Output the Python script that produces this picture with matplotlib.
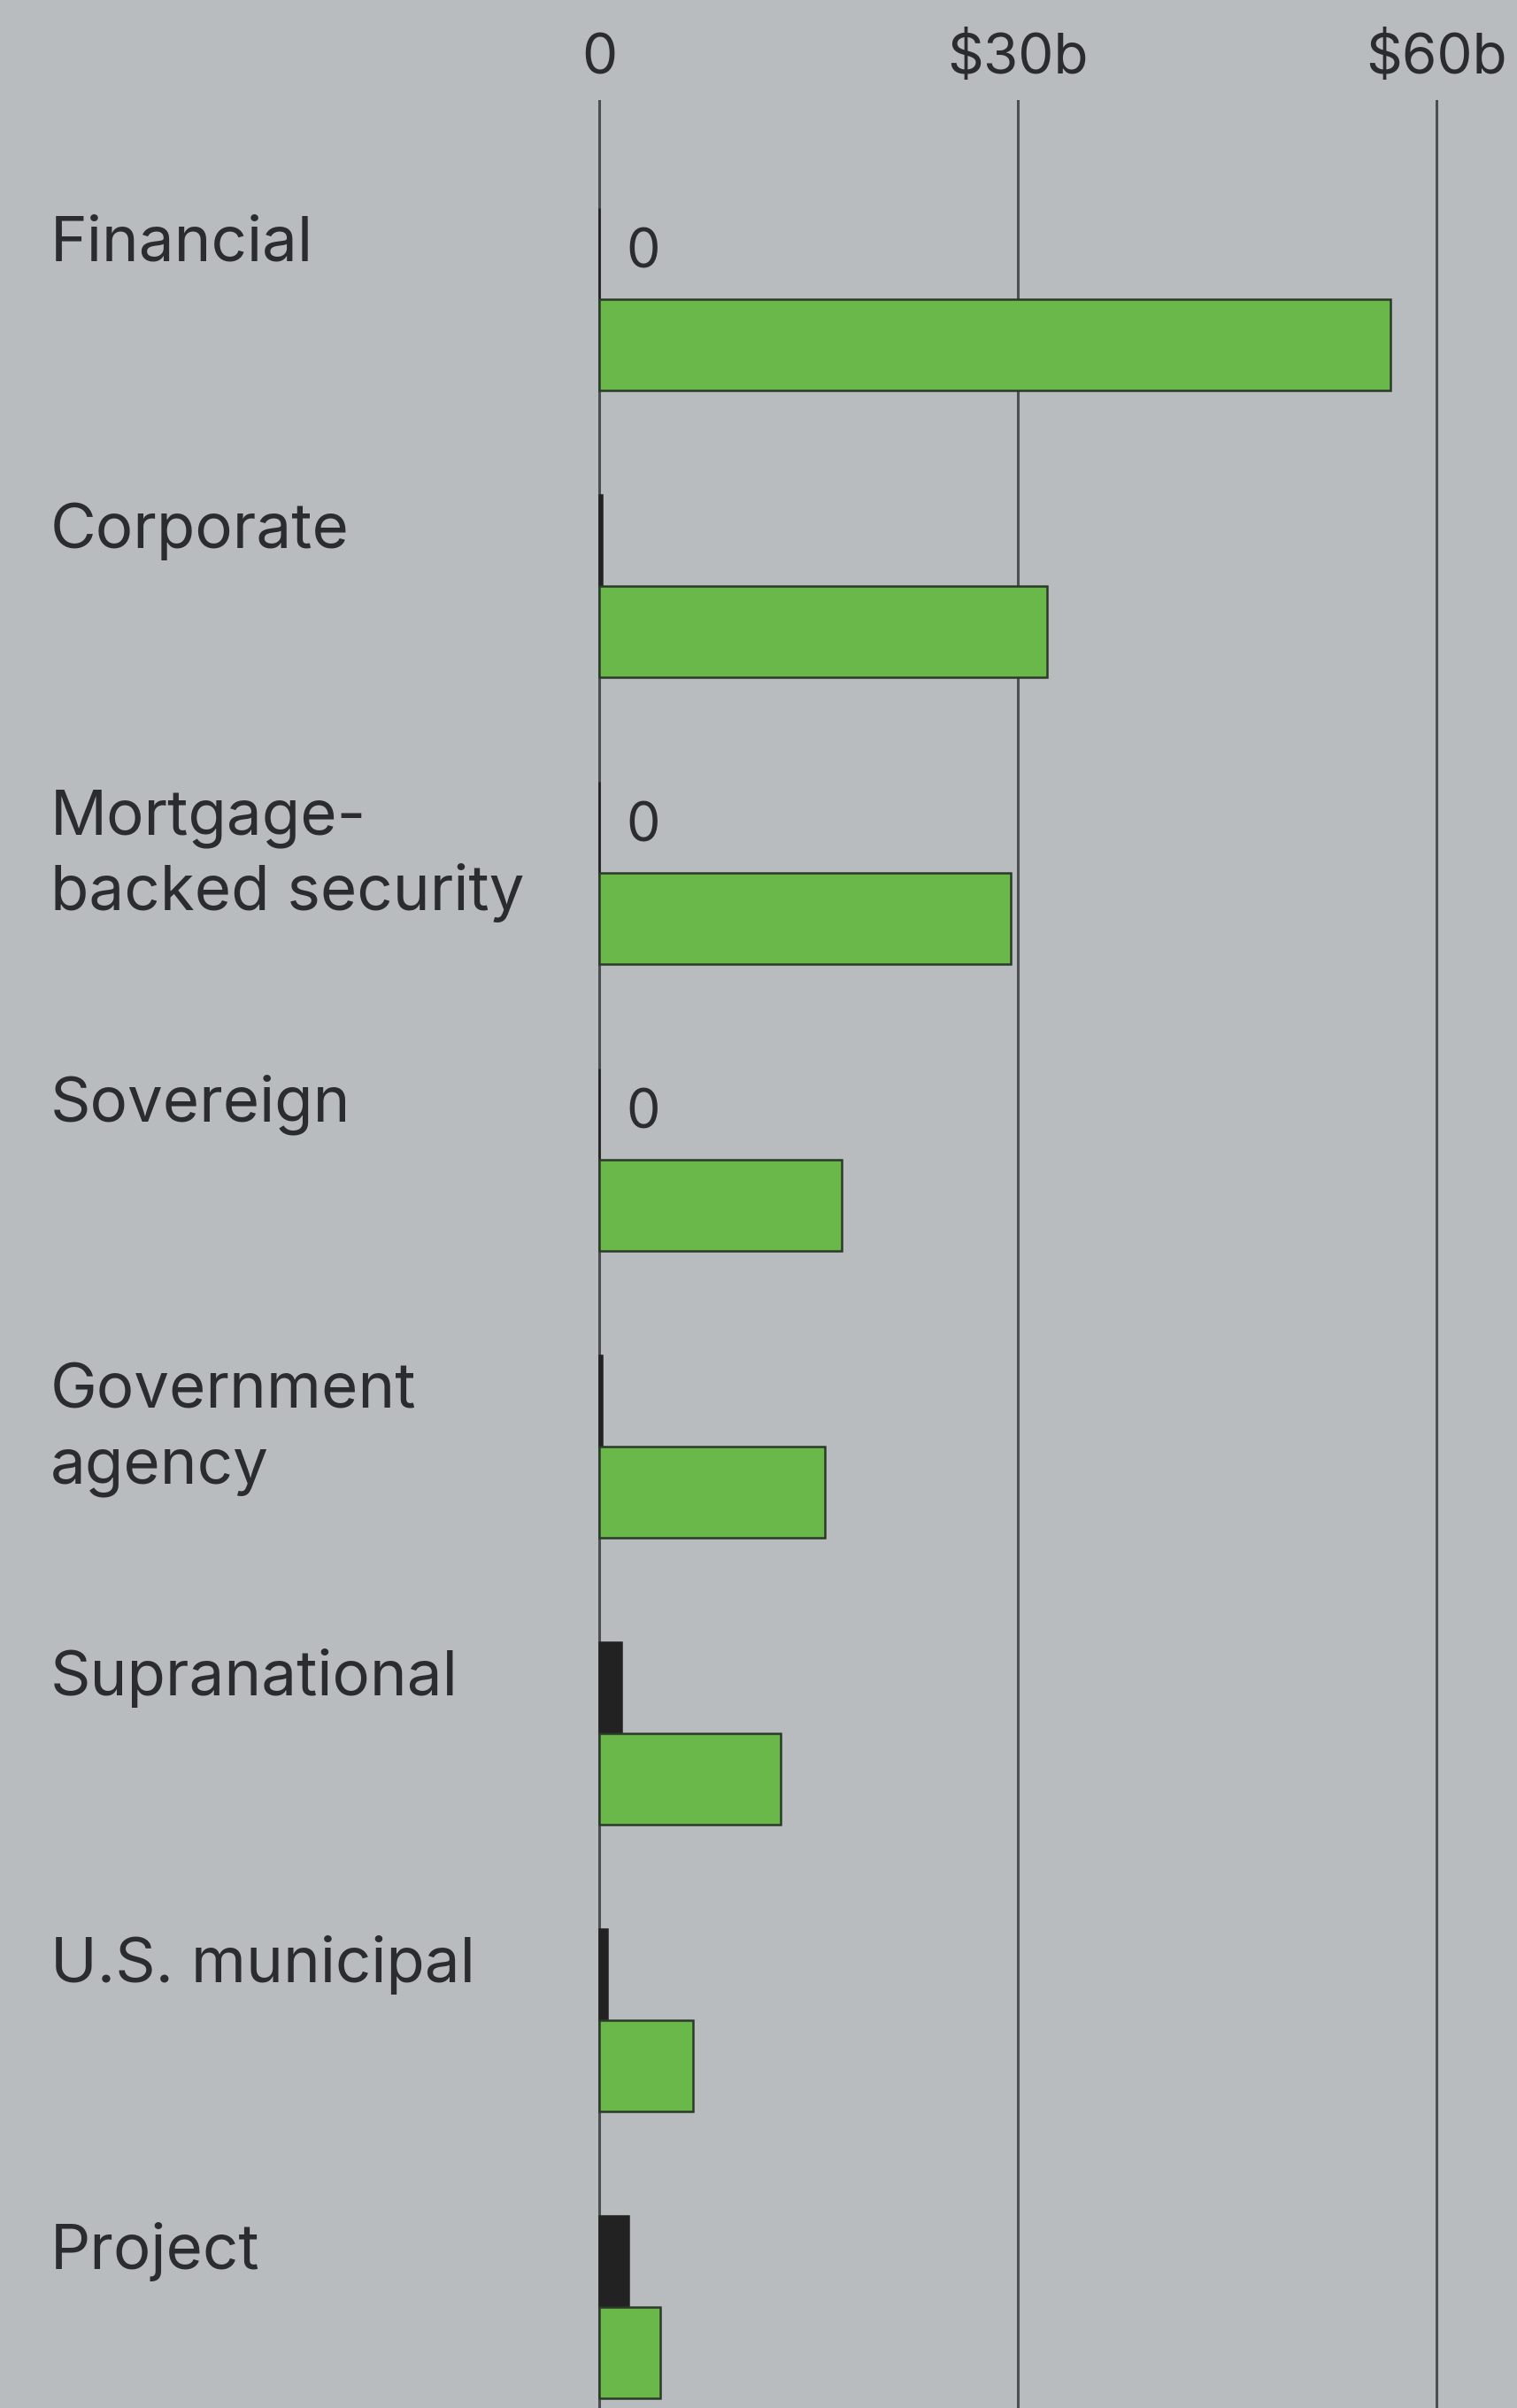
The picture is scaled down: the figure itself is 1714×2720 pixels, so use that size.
import matplotlib
matplotlib.use("Agg")
import matplotlib.pyplot as plt
from matplotlib.transforms import blended_transform_factory

# values in $ billions
categories = ["Financial", "Corporate", "Mortgage-\nbacked security", "Sovereign",
              "Government\nagency", "Supranational", "U.S. municipal", "Project"]
black_vals = [0, 0.2, 0, 0, 0.2, 1.6, 0.55, 2.1]
green_vals = [56.7, 32.1, 29.5, 17.4, 16.2, 13.0, 6.7, 4.4]
zero_labels = [True, False, True, True, False, False, False, False]
tick_vals = [0, 30, 60]
tick_labels = ["0", "$30b", "$60b"]

BG = "#b9bcbf"
GREEN = "#6ab74a"
DARK = "#222222"
GRID = "#4c4f52"
TXT = "#2a2c2e"
FONT = "Inter"

W, H = 1714, 2720
fig = plt.figure(figsize=(W / 100, H / 100), dpi=100, facecolor=BG)

px_per_unit = 15.77
x0_px = 677
xmin, xmax = -3, 65
left = (x0_px + xmin * px_per_unit) / W
width = (xmax - xmin) * px_per_unit / W
top_px = 113
ax = fig.add_axes([left, 0, width, (H - top_px) / H])
ax.set_facecolor(BG)

row_px = 324
first_px = 338
ylo = (top_px - first_px) / row_px
yhi = (H - first_px) / row_px
ax.set_xlim(xmin, xmax)
ax.set_ylim(yhi, ylo)

bar_h = 103 / row_px
ys = list(range(len(categories)))
ax.barh([y - bar_h for y in ys], black_vals, height=bar_h, align="edge",
        color=DARK, edgecolor=DARK, linewidth=1.8, zorder=3)
ax.barh(ys, green_vals, height=bar_h, align="edge",
        color=GREEN, edgecolor="#2a3a28", linewidth=1.8, zorder=3)

for y, z in zip(ys, zero_labels):
    if z:
        ax.text(1.9, y - bar_h / 2, "0", ha="left", va="center",
                fontsize=44, family=FONT, color=TXT, zorder=4)

ax.set_xticks(tick_vals)
ax.set_xticklabels(tick_labels)
ax.xaxis.tick_top()
ax.tick_params(axis="x", length=0, pad=12, labelsize=46, labelcolor=TXT)
for lab in ax.get_xticklabels():
    lab.set_family(FONT)
ax.set_yticks([])
ax.grid(axis="x", color=GRID, linewidth=2.2, zorder=1)
ax.set_axisbelow(True)
for s in ax.spines.values():
    s.set_visible(False)

trans = blended_transform_factory(fig.transFigure, ax.transData)
line_gap = 85 / row_px
for y, name in zip(ys, categories):
    for k, line in enumerate(name.split("\n")):
        ax.text(57 / W, y - 0.133 + k * line_gap, line, transform=trans,
                ha="left", va="baseline", fontsize=51, family=FONT,
                color=TXT, clip_on=False)

fig.savefig("out.png", dpi=100, facecolor=BG)
